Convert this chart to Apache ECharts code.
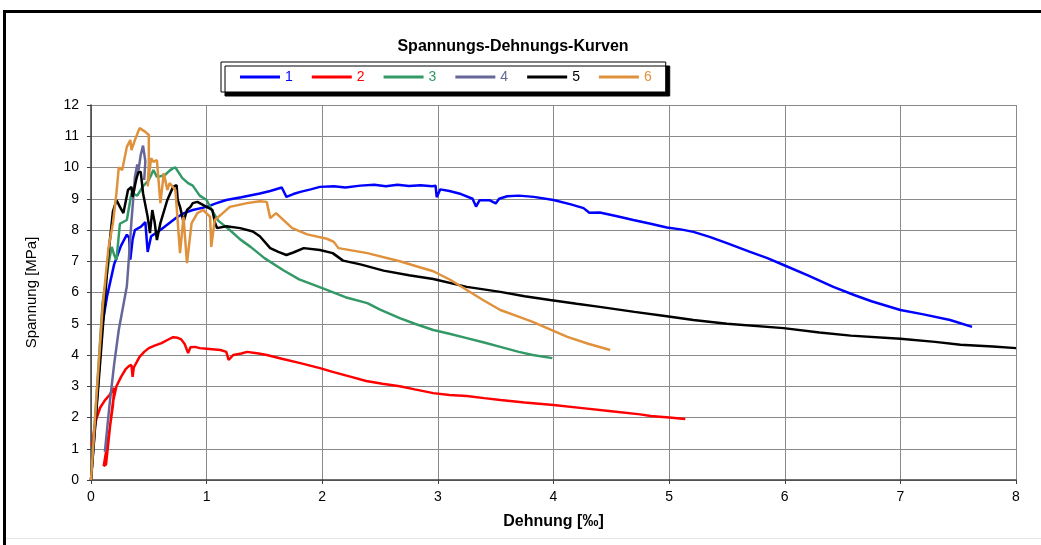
<!DOCTYPE html>
<html>
<head>
<meta charset="utf-8">
<script src="https://cdn.jsdelivr.net/npm/echarts@6/dist/echarts.min.js"></script>
<style>html,body{margin:0;padding:0;background:#fff}#c{width:1041px;height:545px}</style>
</head>
<body>
<div id="c"></div>
<script>
// Data: [Dehnung ‰, Spannung MPa]
const seriesNames = ['1', '2', '3', '4', '5', '6'];
const colors = ['#0000FF', '#FF0000', '#339966', '#666699', '#000000', '#E0913C'];
const xTicks = [0, 1, 2, 3, 4, 5, 6, 7, 8];
const yTicks = [0, 1, 2, 3, 4, 5, 6, 7, 8, 9, 10, 11, 12];

const s1 = [[0,0],[0.03,1.5],[0.06,3.0],[0.095,4.9],[0.14,5.9],[0.2,6.9],[0.26,7.5],[0.31,7.85],[0.33,7.75],[0.34,7.05],[0.36,7.7],[0.38,8.0],[0.43,8.1],[0.47,8.25],[0.49,7.3],[0.52,7.8],[0.6,8.0],[0.67,8.2],[0.74,8.4],[0.81,8.55],[0.88,8.64],[1.0,8.74],[1.08,8.85],[1.17,8.96],[1.3,9.05],[1.46,9.17],[1.55,9.25],[1.65,9.36],[1.69,9.06],[1.75,9.15],[1.81,9.22],[1.9,9.3],[1.98,9.38],[2.1,9.4],[2.2,9.36],[2.33,9.42],[2.45,9.45],[2.55,9.4],[2.65,9.45],[2.75,9.41],[2.85,9.43],[2.95,9.4],[2.98,9.42],[2.99,9.05],[3.02,9.3],[3.1,9.25],[3.2,9.15],[3.3,9.0],[3.33,8.75],[3.36,8.95],[3.45,8.95],[3.5,8.85],[3.53,9.0],[3.6,9.08],[3.7,9.1],[3.83,9.06],[4.0,8.96],[4.15,8.82],[4.26,8.7],[4.31,8.55],[4.4,8.56],[4.55,8.44],[4.69,8.32],[4.84,8.2],[4.98,8.08],[5.1,8.02],[5.21,7.94],[5.35,7.78],[5.5,7.58],[5.7,7.3],[5.85,7.1],[5.99,6.88],[6.2,6.55],[6.42,6.18],[6.6,5.92],[6.75,5.72],[7.0,5.44],[7.2,5.3],[7.43,5.12],[7.62,4.9]];

const s2 = [[0.01,1.1],[0.03,1.7],[0.05,2.0],[0.08,2.32],[0.12,2.55],[0.16,2.72],[0.2,2.95],[0.21,2.98],[0.19,2.4],[0.16,1.6],[0.13,0.9],[0.11,0.45],[0.13,0.5],[0.15,1.2],[0.17,1.9],[0.19,2.5],[0.22,3.0],[0.26,3.3],[0.3,3.55],[0.33,3.65],[0.35,3.68],[0.36,3.3],[0.37,3.6],[0.42,3.94],[0.46,4.1],[0.5,4.22],[0.55,4.3],[0.61,4.38],[0.66,4.48],[0.71,4.57],[0.75,4.55],[0.78,4.5],[0.81,4.35],[0.84,4.06],[0.86,4.25],[0.9,4.26],[0.94,4.22],[1.0,4.2],[1.12,4.16],[1.17,4.1],[1.19,3.84],[1.23,4.0],[1.3,4.05],[1.35,4.1],[1.45,4.05],[1.52,4.0],[1.65,3.88],[1.81,3.74],[1.98,3.58],[2.09,3.46],[2.25,3.3],[2.38,3.17],[2.52,3.08],[2.67,3.0],[2.8,2.9],[2.96,2.78],[3.1,2.72],[3.25,2.69],[3.4,2.62],[3.54,2.56],[3.75,2.48],[4.0,2.4],[4.25,2.3],[4.5,2.2],[4.75,2.1],[4.84,2.05],[5.0,2.0],[5.14,1.95]];

const s3 = [[0,0],[0.05,2.8],[0.1,5.66],[0.15,6.9],[0.18,7.46],[0.2,7.2],[0.22,7.04],[0.25,8.2],[0.31,8.32],[0.35,9.18],[0.4,9.1],[0.45,9.4],[0.5,9.6],[0.54,9.92],[0.57,9.7],[0.6,9.72],[0.64,9.76],[0.68,9.9],[0.71,9.98],[0.73,10.0],[0.79,9.66],[0.84,9.5],[0.88,9.42],[0.94,9.1],[1.0,8.96],[1.05,8.6],[1.1,8.3],[1.2,8.0],[1.29,7.7],[1.38,7.46],[1.5,7.1],[1.66,6.72],[1.8,6.42],[2.0,6.14],[2.2,5.85],[2.39,5.66],[2.5,5.45],[2.67,5.18],[2.8,5.0],[2.96,4.8],[3.1,4.68],[3.25,4.54],[3.4,4.4],[3.54,4.26],[3.7,4.1],[3.82,4.0],[3.99,3.9]];

const s4 = [[0.12,0.9],[0.16,2.4],[0.2,3.7],[0.24,4.8],[0.28,5.6],[0.31,6.2],[0.33,7.2],[0.35,8.3],[0.37,9.2],[0.38,9.7],[0.4,10.1],[0.41,9.9],[0.43,10.4],[0.45,10.7],[0.46,10.75],[0.47,10.2],[0.46,9.6]];

const s5 = [[0,0],[0.08,3.8],[0.15,7.2],[0.19,8.6],[0.22,8.96],[0.25,8.74],[0.28,8.54],[0.32,9.28],[0.35,9.38],[0.36,9.06],[0.39,9.6],[0.41,9.86],[0.43,9.86],[0.45,9.18],[0.49,8.42],[0.51,7.9],[0.53,8.64],[0.55,8.26],[0.57,7.68],[0.6,8.22],[0.66,8.96],[0.71,9.38],[0.74,9.44],[0.75,8.96],[0.77,8.74],[0.8,8.26],[0.83,8.64],[0.86,8.74],[0.88,8.86],[0.92,8.9],[0.94,8.86],[1.0,8.74],[1.05,8.64],[1.07,8.26],[1.09,8.06],[1.17,8.12],[1.29,8.06],[1.4,7.95],[1.46,7.8],[1.55,7.42],[1.62,7.3],[1.69,7.2],[1.75,7.28],[1.84,7.42],[1.98,7.36],[2.09,7.26],[2.18,7.02],[2.33,6.9],[2.53,6.7],[2.75,6.55],[2.96,6.43],[3.25,6.18],[3.54,6.02],[3.75,5.88],[3.97,5.76],[4.2,5.64],[4.4,5.54],[4.7,5.38],[4.98,5.24],[5.21,5.12],[5.5,5.0],[5.99,4.86],[6.3,4.72],[6.57,4.62],[7.0,4.52],[7.3,4.42],[7.52,4.33],[7.8,4.27],[8.0,4.22]];

const s6 = [[0,0],[0.05,2.8],[0.1,5.5],[0.15,7.4],[0.19,8.22],[0.22,9.18],[0.24,10.0],[0.27,9.92],[0.31,10.66],[0.34,10.88],[0.35,10.56],[0.38,10.88],[0.42,11.26],[0.47,11.14],[0.5,11.04],[0.5,10.1],[0.49,9.4],[0.52,10.3],[0.54,10.18],[0.57,10.24],[0.6,8.86],[0.63,9.82],[0.66,9.28],[0.68,9.5],[0.73,9.28],[0.77,7.26],[0.8,8.42],[0.83,6.94],[0.87,8.22],[0.92,8.54],[0.97,8.64],[1.03,8.42],[1.04,7.46],[1.07,8.32],[1.14,8.54],[1.2,8.74],[1.35,8.86],[1.46,8.92],[1.52,8.9],[1.55,8.38],[1.6,8.54],[1.74,8.06],[1.87,7.86],[2.04,7.72],[2.1,7.62],[2.14,7.42],[2.39,7.26],[2.67,7.0],[2.85,6.8],[2.96,6.68],[3.11,6.4],[3.25,6.08],[3.39,5.76],[3.54,5.44],[3.68,5.25],[3.82,5.06],[3.97,4.82],[4.12,4.58],[4.3,4.36],[4.49,4.16]];

const allData = [s1, s2, s3, s4, s5, s6];

const chart = echarts.init(document.getElementById('c'), null, {renderer: 'canvas'});
const FONT = 'Liberation Sans, Arial, sans-serif';

const option = {
  animation: false,
  backgroundColor: '#ffffff',
  title: {
    text: 'Spannungs-Dehnungs-Kurven',
    left: 508, top: 34, textAlign: 'center',
    textStyle: {fontFamily: FONT, fontSize: 16, fontWeight: 'bold', color: '#000'}
  },
  legend: {
    left: 221, top: 62,
    padding: [8, 14, 8, 19],
    itemWidth: 40, itemHeight: 3, itemGap: 19,
    icon: 'rect',
    backgroundColor: '#ffffff',
    borderColor: '#000000', borderWidth: 1,
    shadowColor: '#000000', shadowOffsetX: 4, shadowOffsetY: 4, shadowBlur: 0,
    data: seriesNames.map((n, i) => ({name: n, textStyle: {color: colors[i]}})),
    textStyle: {fontFamily: FONT, fontSize: 14, lineHeight: 14}
  },
  grid: {left: 91, right: 25, top: 105, bottom: 65, containLabel: false},
  xAxis: {
    type: 'value', min: xTicks[0], max: xTicks[xTicks.length - 1], interval: 1,
    name: 'Dehnung [‰]', nameLocation: 'middle', nameGap: 34,
    nameTextStyle: {fontFamily: FONT, fontSize: 16, fontWeight: 'bold', color: '#000'},
    axisLine: {show: true, lineStyle: {color: '#404040', width: 1.5}},
    axisTick: {show: true, length: 4, lineStyle: {color: '#404040'}},
    axisLabel: {fontFamily: FONT, fontSize: 14, color: '#000', margin: 10},
    splitLine: {show: true, lineStyle: {color: '#8a8a8a', width: 1}}
  },
  yAxis: {
    type: 'value', min: yTicks[0], max: yTicks[yTicks.length - 1], interval: 1,
    name: 'Spannung [MPa]', nameLocation: 'middle', nameGap: 52, nameRotate: 90,
    nameTextStyle: {fontFamily: FONT, fontSize: 15, color: '#000'},
    axisLine: {show: true, lineStyle: {color: '#404040', width: 1.5}},
    axisTick: {show: true, length: 4, lineStyle: {color: '#404040'}},
    axisLabel: {fontFamily: FONT, fontSize: 14, color: '#000', margin: 12},
    splitLine: {show: true, lineStyle: {color: '#8a8a8a', width: 1}}
  },
  series: allData.map((d, i) => ({
    name: seriesNames[i], type: 'line', data: d,
    showSymbol: false, symbol: 'none', smooth: false,
    lineStyle: {color: colors[i], width: 2.5},
    itemStyle: {color: colors[i]},
    clip: true
  })),
  graphic: [
    {type: 'rect', shape: {x: 3, y: 10, width: 1038, height: 3}, style: {fill: '#000'}, silent: true},
    {type: 'rect', shape: {x: 3, y: 10, width: 3, height: 535}, style: {fill: '#000'}, silent: true},
    {type: 'rect', shape: {x: 6, y: 538, width: 1035, height: 1}, style: {fill: '#e4e4e4'}, silent: true}
  ]
};
chart.setOption(option);
</script>
</body>
</html>
